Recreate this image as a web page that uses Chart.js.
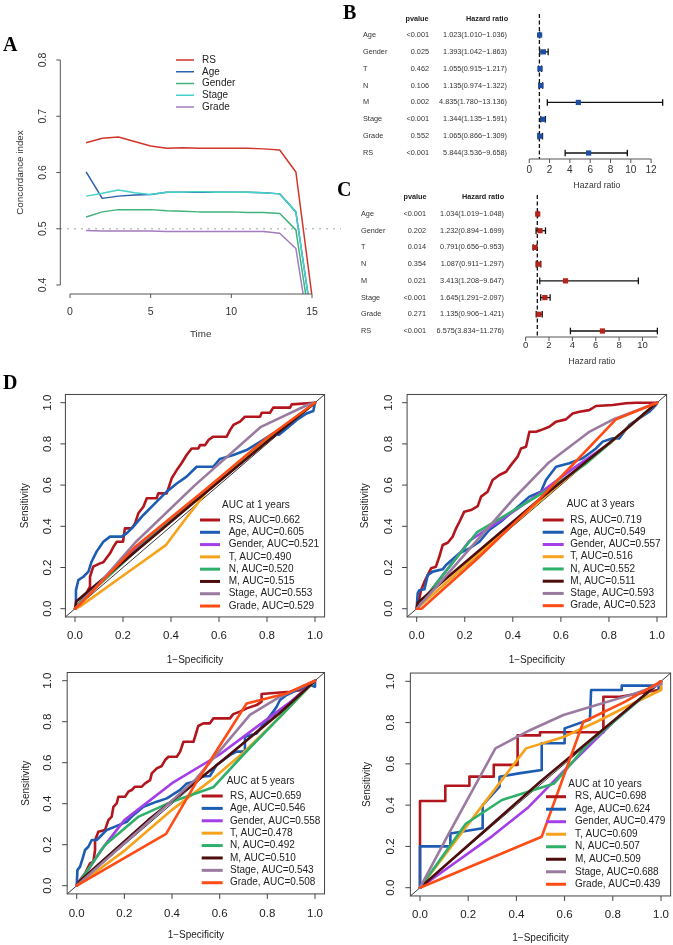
<!DOCTYPE html>
<html><head><meta charset="utf-8">
<script src="https://cdn.jsdelivr.net/npm/chart.js@4.4.1/dist/chart.umd.min.js"></script>
<style>
html,body{margin:0;padding:0;background:#fff}
#page{position:relative;width:673px;height:945px;overflow:hidden;background:#fff}
#page canvas{position:absolute;left:0;top:0}
.tag{position:absolute;font-family:"Liberation Serif","Times New Roman",serif;font-weight:bold;font-size:20px;line-height:1;color:#000}
</style></head><body>
<div id="page">
<canvas id="cA" width="673" height="945"></canvas>
<canvas id="cB" width="673" height="945"></canvas>
<canvas id="cC" width="673" height="945"></canvas>
<canvas id="cD1" width="673" height="945"></canvas>
<canvas id="cD2" width="673" height="945"></canvas>
<canvas id="cD3" width="673" height="945"></canvas>
<canvas id="cD4" width="673" height="945"></canvas>
<div class="tag" style="left:3px;top:33.5px">A</div>
<div class="tag" style="left:343px;top:1.5px">B</div>
<div class="tag" style="left:337px;top:178.5px">C</div>
<div class="tag" style="left:3px;top:371.5px">D</div>
</div>
<script>
// ---------------- DATA ----------------
// Panel A: concordance index over time
const timeA = [1,2,3,4,5,6,7,8,9,10,11,12,13,14,15];
const namesA = ['RS','Age','Gender','Stage','Grade'];
const cindexRS     = [0.653,0.661,0.663,0.655,0.647,0.643,0.644,0.643,0.643,0.643,0.643,0.642,0.640,0.601,0.380];
const cindexAge    = [0.601,0.554,0.558,0.560,0.561,0.565,0.565,0.565,0.565,0.565,0.565,0.564,0.562,0.530,0.335];
const cindexGender = [0.521,0.530,0.534,0.534,0.534,0.532,0.531,0.530,0.530,0.530,0.529,0.529,0.527,0.498,0.310];
const cindexStage  = [0.558,0.563,0.569,0.564,0.561,0.565,0.565,0.566,0.565,0.565,0.565,0.564,0.562,0.530,0.335];
const cindexGrade  = [0.497,0.496,0.496,0.496,0.496,0.495,0.495,0.495,0.495,0.495,0.495,0.495,0.492,0.465,0.285];
const yTicksA = [0.4,0.5,0.6,0.7,0.8];
const xTicksA = [0,5,10,15];

// Panels B / C: forest plots
const forestRows = ['Age','Gender','T','N','M','Stage','Grade','RS'];
const pvalB = ['<0.001','0.025','0.462','0.106','0.002','<0.001','0.552','<0.001'];
const hrB   = [1.023,1.393,1.055,1.135,4.835,1.344,1.065,5.844];
const lowB  = [1.010,1.042,0.915,0.974,1.780,1.135,0.866,3.536];
const highB = [1.036,1.863,1.217,1.322,13.136,1.591,1.309,9.658];
const ticksB = [0,2,4,6,8,10,12];
const pvalC = ['<0.001','0.202','0.014','0.354','0.021','<0.001','0.271','<0.001'];
const hrC   = [1.034,1.232,0.791,1.087,3.413,1.645,1.135,6.575];
const lowC  = [1.019,0.894,0.656,0.911,1.208,1.291,0.906,3.834];
const highC = [1.048,1.699,0.953,1.297,9.647,2.097,1.421,11.276];
const ticksC = [0,2,4,6,8,10];

// Panel D: time-dependent ROC curves
const rocNames = ['RS','Age','Gender','T','N','M','Stage','Grade'];
const rocYears = [1,3,5,10];
const rocTicks = [0,0.2,0.4,0.6,0.8,1.0];
const auc1  = [0.662,0.605,0.521,0.490,0.520,0.515,0.553,0.529];
const auc3  = [0.719,0.549,0.557,0.516,0.552,0.511,0.593,0.523];
const auc5  = [0.659,0.546,0.558,0.478,0.492,0.510,0.543,0.508];
const auc10 = [0.698,0.624,0.479,0.609,0.507,0.509,0.688,0.439];

const roc1RS = [[0,0],[0.02,0.03],[0.05,0.08],[0.0625,0.107],[0.0625,0.155],[0.076,0.204],[0.104,0.22],[0.118,0.225],[0.146,0.269],[0.16,0.30],[0.174,0.325],[0.2,0.325],[0.208,0.39],[0.236,0.39],[0.25,0.414],[0.264,0.463],[0.285,0.495],[0.299,0.536],[0.34,0.536],[0.347,0.56],[0.382,0.56],[0.403,0.633],[0.424,0.673],[0.444,0.706],[0.465,0.746],[0.486,0.778],[0.514,0.778],[0.521,0.794],[0.542,0.794],[0.556,0.819],[0.576,0.835],[0.632,0.835],[0.646,0.867],[0.66,0.892],[0.6875,0.908],[0.708,0.932],[0.771,0.932],[0.778,0.951],[0.8125,0.951],[0.826,0.976],[0.896,0.976],[0.903,0.992],[1,1]];
const roc1Age = [[0,0],[0.004,0.09],[0.014,0.139],[0.035,0.155],[0.056,0.18],[0.069,0.228],[0.09,0.277],[0.118,0.325],[0.146,0.35],[0.194,0.35],[0.215,0.366],[0.243,0.398],[0.285,0.455],[0.326,0.503],[0.382,0.568],[0.424,0.608],[0.465,0.641],[0.507,0.689],[0.576,0.689],[0.604,0.727],[0.66,0.746],[0.715,0.77],[0.771,0.81],[0.826,0.851],[0.85,0.845],[0.882,0.875],[0.924,0.916],[0.965,0.948],[0.993,0.96],[1,1]];
const roc1Gender = [[0,0],[0.02,0.03],[0.25,0.29],[0.55,0.58],[0.8,0.82],[1,1]];
const roc1T = [[0,0],[0.02,0.01],[0.2,0.16],[0.38,0.31],[0.45,0.42],[0.55,0.57],[0.8,0.82],[1,1]];
const roc1N = [[0,0],[0.02,0.03],[0.3,0.33],[0.6,0.62],[0.85,0.86],[1,1]];
const roc1M = [[0,0],[0.005,0.035],[0.05,0.08],[0.5,0.52],[0.8,0.81],[1,1]];
const roc1Stage = [[0,0],[0.1,0.12],[0.25,0.32],[0.5,0.6],[0.775,0.883],[0.97,0.99],[1,1]];
const roc1Grade = [[0,0],[0.02,0.02],[0.25,0.3],[0.55,0.585],[0.8,0.83],[1,1]];

const roc3RS = [[0,0],[0.004,0.026],[0.011,0.05],[0.018,0.09],[0.032,0.13],[0.046,0.163],[0.06,0.196],[0.08,0.204],[0.094,0.252],[0.108,0.309],[0.129,0.32],[0.15,0.35],[0.164,0.39],[0.178,0.422],[0.198,0.471],[0.226,0.479],[0.254,0.498],[0.268,0.544],[0.295,0.568],[0.316,0.625],[0.344,0.649],[0.372,0.665],[0.392,0.697],[0.42,0.738],[0.434,0.778],[0.455,0.786],[0.469,0.859],[0.497,0.859],[0.517,0.867],[0.552,0.883],[0.58,0.908],[0.621,0.919],[0.649,0.948],[0.677,0.956],[0.718,0.964],[0.746,0.984],[0.816,0.989],[0.871,0.997],[0.913,1],[1,1]];
const roc3Age = [[0,0],[0.004,0.074],[0.011,0.09],[0.032,0.094],[0.046,0.163],[0.067,0.18],[0.108,0.191],[0.122,0.212],[0.178,0.269],[0.219,0.293],[0.261,0.325],[0.302,0.382],[0.358,0.43],[0.413,0.487],[0.469,0.544],[0.517,0.568],[0.538,0.625],[0.58,0.689],[0.635,0.706],[0.691,0.73],[0.746,0.778],[0.774,0.811],[0.816,0.827],[0.843,0.827],[0.885,0.892],[0.926,0.924],[0.968,0.956],[0.996,0.99],[1,1]];
const roc3Gender = [[0,0],[0.12,0.18],[0.22,0.33],[0.35,0.43],[0.5,0.55],[0.65,0.68],[0.8,0.8],[1,1]];
const roc3T = [[0,0],[0.02,0.02],[0.3,0.31],[0.6,0.61],[0.8,0.8],[1,1]];
const roc3N = [[0,0],[0.1,0.15],[0.25,0.37],[0.35,0.44],[0.45,0.51],[0.55,0.58],[0.7,0.7],[0.85,0.85],[1,1]];
const roc3M = [[0,0],[0.005,0.03],[0.5,0.52],[0.85,0.85],[1,1]];
const roc3Stage = [[0,0],[0.1,0.13],[0.25,0.33],[0.4,0.53],[0.55,0.71],[0.72,0.86],[0.82,0.92],[1,1]];
const roc3Grade = [[0,0],[0.02,0],[0.25,0.24],[0.5,0.52],[0.65,0.7],[0.83,0.92],[1,1]];

const roc5RS = [[0,0],[0.014,0.028],[0.035,0.06],[0.056,0.109],[0.07,0.117],[0.077,0.174],[0.077,0.222],[0.091,0.263],[0.119,0.272],[0.133,0.32],[0.147,0.337],[0.154,0.385],[0.168,0.402],[0.175,0.434],[0.203,0.434],[0.217,0.459],[0.231,0.467],[0.245,0.483],[0.273,0.483],[0.287,0.499],[0.308,0.515],[0.315,0.548],[0.336,0.572],[0.357,0.584],[0.371,0.613],[0.385,0.629],[0.42,0.629],[0.434,0.654],[0.448,0.702],[0.49,0.702],[0.503,0.751],[0.51,0.779],[0.531,0.792],[0.559,0.792],[0.573,0.816],[0.643,0.816],[0.657,0.837],[0.685,0.849],[0.713,0.865],[0.755,0.881],[0.776,0.898],[0.776,0.935],[0.839,0.941],[0.895,0.946],[0.937,0.954],[0.965,0.979],[1,1]];
const roc5Age = [[0,0],[0.003,0.076],[0.014,0.093],[0.025,0.133],[0.035,0.174],[0.049,0.19],[0.063,0.223],[0.084,0.223],[0.098,0.239],[0.126,0.272],[0.161,0.288],[0.21,0.312],[0.231,0.337],[0.28,0.385],[0.336,0.41],[0.378,0.426],[0.434,0.467],[0.462,0.499],[0.49,0.507],[0.517,0.532],[0.559,0.535],[0.587,0.589],[0.643,0.637],[0.671,0.654],[0.706,0.654],[0.706,0.727],[0.755,0.743],[0.825,0.849],[0.839,0.873],[0.853,0.906],[0.881,0.93],[0.923,0.954],[0.979,0.979],[1,0.971],[1,1]];
const roc5Gender = [[0,0],[0.05,0.08],[0.1,0.17],[0.2,0.32],[0.4,0.5],[0.6,0.64],[0.75,0.77],[0.9,0.9],[1,1]];
const roc5T = [[0,0],[0.2,0.17],[0.4,0.37],[0.57,0.52],[0.7,0.65],[0.85,0.82],[1,1]];
const roc5N = [[0,0],[0.12,0.2],[0.26,0.337],[0.4,0.41],[0.573,0.48],[0.7,0.64],[0.85,0.82],[1,1]];
const roc5M = [[0,0],[0.01,0.02],[0.3,0.32],[0.6,0.6],[0.85,0.84],[1,1]];
const roc5Stage = [[0,0],[0.3,0.31],[0.5,0.52],[0.727,0.833],[0.85,0.92],[1,1]];
const roc5Grade = [[0,0],[0.375,0.253],[0.5,0.5],[0.713,0.889],[0.88,0.938],[1,1]];

const roc10RS = [[0,0],[0,0.42],[0.105,0.42],[0.105,0.494],[0.205,0.494],[0.205,0.538],[0.306,0.538],[0.306,0.595],[0.405,0.595],[0.405,0.738],[0.498,0.738],[0.498,0.753],[0.761,0.753],[0.761,0.925],[0.83,0.925],[1,0.96],[1,1]];
const roc10Age = [[0,0],[0,0.2],[0.126,0.2],[0.126,0.263],[0.26,0.288],[0.26,0.4],[0.33,0.49],[0.33,0.538],[0.41,0.554],[0.505,0.57],[0.505,0.70],[0.6,0.70],[0.6,0.772],[0.705,0.815],[0.71,0.958],[0.837,0.958],[0.837,0.979],[0.99,0.979],[0.99,0.955],[1,1]];
const roc10Gender = [[0,0],[0.3,0.25],[0.45,0.39],[0.6,0.57],[0.8,0.8],[1,1]];
const roc10T = [[0,0],[0.26,0.4],[0.44,0.675],[0.595,0.73],[0.733,0.804],[0.871,0.885],[1,0.958],[1,1]];
const roc10N = [[0,0],[0.19,0.31],[0.34,0.425],[0.557,0.505],[0.7,0.7],[1,1]];
const roc10M = [[0,0],[0.5,0.515],[1,1]];
const roc10Stage = [[0,0],[0.12,0.263],[0.313,0.675],[0.456,0.763],[0.595,0.837],[0.733,0.885],[0.871,0.933],[1,0.985],[1,1]];
const roc10Grade = [[0,0],[0.505,0.247],[0.678,0.804],[0.85,0.9],[1,1]];

// ---------------- STYLE ----------------
const W = 673, H = 945;
const FONT = '"Liberation Sans", Arial, Helvetica, sans-serif';
const AXC = '#555', BOXC = '#444';
const colorsA = ['#d1352b','#2b5fad','#3fb37a','#45d3c9','#a37bbf'];
const rocColors = ['#b2161c','#1c5cb2','#a43ee8','#f7a21b','#2eb06a','#4e0d0d','#9a7b9f','#ff4b14'];

// ---------------- HELPERS ----------------
function lin(p0, v0, p1, v1){ const k = (v1 - v0) / (p1 - p0); return p => v0 + (p - p0) * k; }
function txt(ctx, s, x, y, o){
  o = o || {};
  ctx.save();
  ctx.font = (o.bold ? 'bold ' : '') + (o.size || 11) + 'px ' + FONT;
  ctx.fillStyle = o.color || '#111';
  ctx.textAlign = o.align || 'center';
  ctx.textBaseline = o.base || 'middle';
  ctx.translate(x, y);
  if (o.rot) ctx.rotate(o.rot);
  ctx.fillText(s, 0, 0);
  ctx.restore();
}
function seg(ctx, x0, y0, x1, y1, color, w, dash){
  ctx.save(); ctx.strokeStyle = color; ctx.lineWidth = w; ctx.setLineDash(dash || []);
  ctx.beginPath(); ctx.moveTo(x0, y0); ctx.lineTo(x1, y1); ctx.stroke(); ctx.restore();
}
function makeChart(id, area, xr, yr, datasets, hooks, yReverse){
  return new Chart(document.getElementById(id), {
    type: 'scatter',
    data: { datasets: datasets },
    options: {
      responsive: false, animation: false, events: [],
      layout: { padding: { left: area.L, top: area.T, right: W - area.R, bottom: H - area.B } },
      plugins: { legend: { display: false }, tooltip: { enabled: false }, title: { display: false } },
      scales: {
        x: { type: 'linear', display: false, min: xr[0], max: xr[1] },
        y: { type: 'linear', display: false, min: yr[0], max: yr[1], reverse: !!yReverse }
      }
    },
    plugins: [{
      id: 'draw_' + id,
      beforeDatasetsDraw(c){ if (hooks.before) hooks.before(c.ctx, c.scales.x, c.scales.y, c.chartArea); },
      afterDatasetsDraw(c){ if (hooks.after) hooks.after(c.ctx, c.scales.x, c.scales.y, c.chartArea); }
    }]
  });
}

// ---------------- PANEL A ----------------
(function(){
  const area = { L: 60.3, T: 51, R: 341, B: 294 };
  const ax = lin(70, 0, 312, 15), ay = lin(285, 0.4, 60, 0.8);
  const series = [cindexRS, cindexAge, cindexGender, cindexStage, cindexGrade];
  makeChart('cA', area, [ax(area.L), ax(area.R)], [ay(area.B), ay(area.T)],
    series.map((s, i) => ({
      data: timeA.map((t, j) => ({ x: t, y: s[j] })),
      showLine: true, pointRadius: 0, borderColor: colorsA[i], borderWidth: 1.5,
      borderJoinStyle: 'round', order: 4 - i
    })),
    {
      before(ctx, x, y, a){
        const p = y.getPixelForValue(0.5);
        seg(ctx, a.left, p, a.right, p, '#aaa', 1.3, [1.5, 5.5]);
      },
      after(ctx, x, y, a){
        seg(ctx, a.left, y.getPixelForValue(0.4), a.left, y.getPixelForValue(0.8), AXC, 1);
        yTicksA.forEach(v => {
          const p = y.getPixelForValue(v);
          seg(ctx, a.left - 4, p, a.left, p, AXC, 1);
          txt(ctx, v.toFixed(1), 43, p, { size: 10.5, rot: -Math.PI / 2, color: '#333' });
        });
        seg(ctx, x.getPixelForValue(0), a.bottom, x.getPixelForValue(15), a.bottom, AXC, 1);
        xTicksA.forEach(v => {
          const p = x.getPixelForValue(v);
          seg(ctx, p, a.bottom, p, a.bottom + 4, AXC, 1);
          txt(ctx, String(v), p, 312, { size: 10.5, color: '#333' });
        });
        txt(ctx, 'Time', (a.left + a.right) / 2, 334, { size: 9.8, color: '#333' });
        txt(ctx, 'Concordance index', 20, (a.top + a.bottom) / 2, { size: 9.8, rot: -Math.PI / 2, color: '#333' });
        namesA.forEach((n, i) => {
          const yy = 60 + i * 11.75;
          seg(ctx, 176, yy, 194, yy, colorsA[i], 1.5);
          txt(ctx, n, 202, yy, { size: 10, align: 'left', color: '#222' });
        });
      }
    });
})();

// ---------------- PANELS B, C ----------------
function forest(id, f){
  const xv = lin(f.x0px, 0, f.xRefPx, f.xRef), rv = lin(f.row0, 0, f.row0 + f.step, 1);
  makeChart(id, f.area, [xv(f.area.L), xv(f.area.R)], [rv(f.area.T), rv(f.area.B)],
    [{
      data: f.hr.map((v, i) => ({ x: v, y: i })), showLine: false,
      pointStyle: 'rect', pointRadius: 3.7, pointBackgroundColor: f.color,
      pointBorderColor: f.color, pointBorderWidth: 0
    }],
    {
      before(ctx, x, y, a){
        const p1 = x.getPixelForValue(1);
        seg(ctx, p1, f.dashTop, p1, f.axisY, '#111', 1.3, [4, 2.5]);
        f.lo.forEach((lo, i) => {
          const py = y.getPixelForValue(i), a0 = x.getPixelForValue(lo), a1 = x.getPixelForValue(f.hi[i]);
          seg(ctx, a0, py, a1, py, '#111', 1.3);
          seg(ctx, a0, py - 3.3, a0, py + 3.3, '#111', 1.3);
          seg(ctx, a1, py - 3.3, a1, py + 3.3, '#111', 1.3);
        });
      },
      after(ctx, x, y, a){
        txt(ctx, 'pvalue', f.pvHeadX, f.headY, { size: 7.3, bold: true, color: '#222' });
        txt(ctx, 'Hazard ratio', f.hrHeadX, f.headY, { size: 7.3, bold: true, color: '#222' });
        forestRows.forEach((n, i) => {
          const py = y.getPixelForValue(i);
          txt(ctx, n, f.nameX, py, { size: 7.3, align: 'left', color: '#333' });
          txt(ctx, f.pv[i], f.pvX, py, { size: 7.3, align: 'right', color: '#333' });
          txt(ctx, f.hr[i].toFixed(3) + '(' + f.lo[i].toFixed(3) + '\u2212' + f.hi[i].toFixed(3) + ')',
              f.hrX, py, { size: 7.3, align: 'right', color: '#333' });
        });
        seg(ctx, x.getPixelForValue(0), f.axisY, x.getPixelForValue(f.axisEnd), f.axisY, AXC, 1);
        f.ticks.forEach(v => {
          const p = x.getPixelForValue(v);
          seg(ctx, p, f.axisY, p, f.axisY + 4, AXC, 1);
          txt(ctx, String(v), p, f.tickY, { size: f.tickSize, color: '#333' });
        });
        txt(ctx, 'Hazard ratio', f.titleX, f.titleY, { size: 8.6, color: '#333' });
      }
    }, true);
}
forest('cB', {
  area: { L: 520, T: 8, R: 670, B: 165 }, x0px: 529.3, xRefPx: 652, xRef: 12,
  row0: 35, step: 16.857, hr: hrB, lo: lowB, hi: highB, pv: pvalB, color: '#1c4fa3',
  dashTop: 14, axisY: 159, axisEnd: 12, ticks: ticksB, tickY: 170, tickSize: 10,
  titleX: 597, titleY: 186, headY: 19, pvHeadX: 417, hrHeadX: 487,
  nameX: 363, pvX: 429, hrX: 507
});
forest('cC', {
  area: { L: 515, T: 190, R: 670, B: 342 }, x0px: 525.7, xRefPx: 643.3, xRef: 10,
  row0: 214, step: 16.714, hr: hrC, lo: lowC, hi: highC, pv: pvalC, color: '#b5231a',
  dashTop: 195, axisY: 337, axisEnd: 11.276, ticks: ticksC, tickY: 345.5, tickSize: 9.5,
  titleX: 592, titleY: 362, headY: 197, pvHeadX: 415, hrHeadX: 483,
  nameX: 361, pvX: 426, hrX: 504
});

// ---------------- PANEL D ----------------
function roc(id, c, series, auc, year){
  const px = v => c.x0 + v * (c.x1 - c.x0), py = v => c.y0 + v * (c.y1 - c.y0);
  const area = { L: px(-0.04), R: px(1.04), T: py(1.04), B: py(-0.04) };
  makeChart(id, area, [-0.04, 1.04], [-0.04, 1.04],
    series.map((s, i) => ({
      data: s.map(p => ({ x: p[0], y: p[1] })), showLine: true, pointRadius: 0,
      borderColor: rocColors[i], borderWidth: 2.6, borderJoinStyle: 'round', borderCapStyle: 'round',
      order: 7 - i
    })),
    {
      before(ctx, x, y, a){
        seg(ctx, x.getPixelForValue(-0.04), y.getPixelForValue(-0.04), x.getPixelForValue(1.04), y.getPixelForValue(1.04), '#222', 0.9);
      },
      after(ctx, x, y, a){
        ctx.save(); ctx.strokeStyle = BOXC; ctx.lineWidth = 1;
        ctx.strokeRect(a.left, a.top, a.right - a.left, a.bottom - a.top); ctx.restore();
        rocTicks.forEach(v => {
          const p = x.getPixelForValue(v);
          seg(ctx, p, a.bottom, p, a.bottom + 5, BOXC, 1);
          txt(ctx, v.toFixed(1), p, c.xTickY, { size: 11.5, color: '#222' });
          const q = y.getPixelForValue(v);
          seg(ctx, a.left - 5, q, a.left, q, BOXC, 1);
          txt(ctx, v.toFixed(1), c.yTickX, q, { size: 11.5, rot: -Math.PI / 2, color: '#222' });
        });
        txt(ctx, 'Sensitivity', c.sensX, (a.top + a.bottom) / 2, { size: 10, rot: -Math.PI / 2, color: '#222' });
        txt(ctx, '1\u2212Specificity', (a.left + a.right) / 2, c.specY, { size: 10, color: '#222' });
        txt(ctx, 'AUC at ' + year + ' years', c.titleX, c.titleY, { size: 10, align: 'left', color: '#222' });
        rocNames.forEach((n, i) => {
          const yy = c.row0 + i * c.rowStep;
          seg(ctx, c.lx0, yy, c.lx1, yy, rocColors[i], 3);
          txt(ctx, n + ', AUC=' + auc[i].toFixed(3), c.tx, yy, { size: 10, align: 'left', color: '#222' });
        });
      }
    });
}
roc('cD1', { x0: 75, x1: 315, y0: 608.7, y1: 402.7, xTickY: 636, yTickX: 47.7, sensX: 25, specY: 660,
  titleX: 222, titleY: 505, lx0: 200, lx1: 220, tx: 228.7, row0: 520, rowStep: 12.29 },
  [roc1RS, roc1Age, roc1Gender, roc1T, roc1N, roc1M, roc1Stage, roc1Grade], auc1, rocYears[0]);
roc('cD2', { x0: 416.7, x1: 657, y0: 608.7, y1: 402.7, xTickY: 636, yTickX: 389, sensX: 365, specY: 660,
  titleX: 566.7, titleY: 504, lx0: 542.7, lx1: 563.7, tx: 570.3, row0: 520, rowStep: 12.24 },
  [roc3RS, roc3Age, roc3Gender, roc3T, roc3N, roc3M, roc3Stage, roc3Grade], auc3, rocYears[1]);
roc('cD3', { x0: 76.7, x1: 315, y0: 885.7, y1: 680.7, xTickY: 914, yTickX: 47.7, sensX: 26.7, specY: 935.7,
  titleX: 226.7, titleY: 781.7, lx0: 201.7, lx1: 222.7, tx: 230, row0: 796, rowStep: 12.39 },
  [roc5RS, roc5Age, roc5Gender, roc5T, roc5N, roc5M, roc5Stage, roc5Grade], auc5, rocYears[2]);
roc('cD4', { x0: 420, x1: 661, y0: 887.7, y1: 681.3, xTickY: 915, yTickX: 391, sensX: 367.7, specY: 938,
  titleX: 568.3, titleY: 784, lx0: 546, lx1: 566, tx: 575, row0: 796.7, rowStep: 12.51 },
  [roc10RS, roc10Age, roc10Gender, roc10T, roc10N, roc10M, roc10Stage, roc10Grade], auc10, rocYears[3]);
</script>
</body></html>
